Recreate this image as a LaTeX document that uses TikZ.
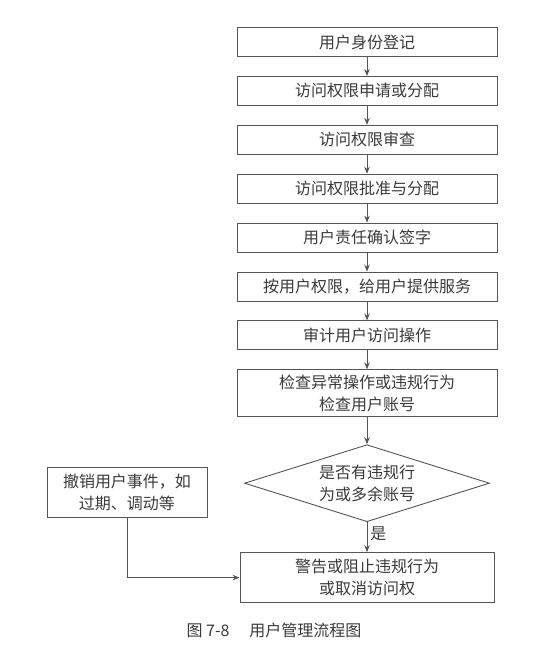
\documentclass[tikz,border=0pt]{standalone}
\usepackage{fontspec}
\newfontfamily\cjk{Noto Sans CJK SC}
\usepackage{tikz}
\usetikzlibrary{arrows.meta,positioning,shapes.geometric}
\definecolor{lineg}{HTML}{555555}
\definecolor{textg}{HTML}{3A3A3A}
\tikzset{
  flowbox/.style={draw=lineg, line width=0.9pt, align=center, inner sep=2pt, minimum width=260pt, minimum height=29pt, text=textg, font=\cjk\fontsize{16}{22}\selectfont},
  flowdia/.style={draw=lineg, line width=0.9pt, diamond, aspect=3.18, inner sep=0pt, align=center, minimum width=245pt, minimum height=77pt, text=textg, font=\cjk\fontsize{16}{22}\selectfont},
  flowarrow/.style={-{Stealth[length=7pt,width=5.5pt]}, draw=lineg, line width=0.9pt},
  flowlabel/.style={text=textg, font=\cjk\fontsize{16}{20}\selectfont, inner sep=3pt}
}
\begin{document}
\begin{tikzpicture}[x=1pt, y=-1pt, node distance=19pt]
  \useasboundingbox (0,0) rectangle (554,651);
  \node[flowbox] (reg) at (367,42) {用户身份登记};
  \node[flowbox, below=of reg] (apply) {访问权限申请或分配};
  \node[flowbox, below=of apply] (review) {访问权限审查};
  \node[flowbox, below=of review] (grant) {访问权限批准与分配};
  \node[flowbox, below=of grant] (sign) {用户责任确认签字};
  \node[flowbox, below=of sign] (serve) {按用户权限，给用户提供服务};
  \node[flowbox, below=of serve] (audit) {审计用户访问操作};
  \node[flowbox, minimum height=47pt, below=of audit] (check) {检查异常操作或违规行为\\检查用户账号};
  \node[flowdia, below=27pt of check] (viol) {是否有违规行\\为或多余账号};
  \node[flowbox, minimum width=254pt, minimum height=50pt, below=30pt of viol] (warn) {警告或阻止违规行为\\或取消访问权};
  \node[flowbox, minimum width=160pt, minimum height=50pt] (revoke) at (127,492) {撤销用户事件，如\\过期、调动等};
  \draw[flowarrow] (reg) -- (apply);
  \draw[flowarrow] (apply) -- (review);
  \draw[flowarrow] (review) -- (grant);
  \draw[flowarrow] (grant) -- (sign);
  \draw[flowarrow] (sign) -- (serve);
  \draw[flowarrow] (serve) -- (audit);
  \draw[flowarrow] (audit) -- (check);
  \draw[flowarrow] (check) -- (viol);
  \draw[flowarrow] (viol) -- node[flowlabel, right, pos=0.4] {是} (warn);
  \draw[flowarrow] (revoke.south) |- (warn.west);
  \node[text=textg, font=\cjk\fontsize{16}{18}\selectfont] (cap) at (274,630) {图 7-8\hspace{1.25em}用户管理流程图};
\end{tikzpicture}
\end{document}
